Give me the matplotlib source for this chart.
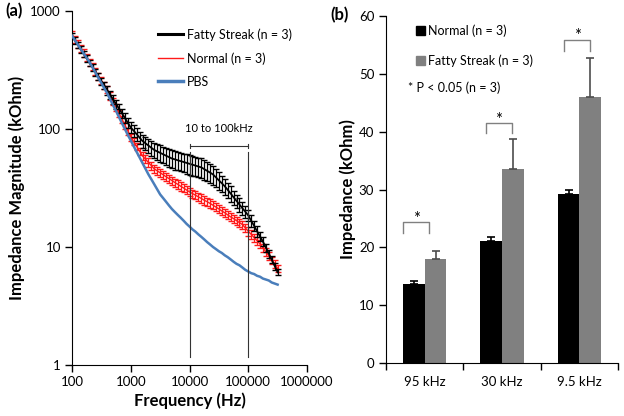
import matplotlib
matplotlib.use("Agg")
import matplotlib.pyplot as plt
import numpy as np
from matplotlib.lines import Line2D
from matplotlib.patches import Patch

plt.rcParams["font.family"] = ["Lato", "DejaVu Sans"]

# ---- panel (a): impedance spectra (20 points per decade) ----
freq = [100, 112, 126, 141, 158, 178, 200, 224, 251, 282,
        316, 355, 398, 447, 501, 562, 631, 708, 794, 891,
        1000, 1122, 1259, 1413, 1585, 1778, 1995, 2239, 2512, 2818,
        3162, 3548, 3981, 4467, 5012, 5623, 6310, 7079, 7943, 8913,
        10000, 11220, 12589, 14125, 15849, 17783, 19953, 22387, 25119, 28184,
        31623, 35481, 39811, 44668, 50119, 56234, 63096, 70795, 79433, 89125,
        100000, 112202, 125893, 141254, 158489, 177828, 199526, 223872, 251189, 281838,
        316228]

fatty = [617, 564, 516, 473, 433, 396, 362, 331, 303, 278,
         254, 233, 213, 195, 178, 163, 149, 136, 124, 113,
         103, 96.6, 90.4, 84.5, 79.1, 75.7, 72.4, 69.3, 66.4, 64.6,
         62.8, 61.1, 59.4, 57.8, 56.2, 55.3, 54.3, 53.4, 52.5, 51.6,
         50.7, 49.8, 49.0, 48.1, 47.3, 45.7, 44.2, 42.7, 41.2, 38.9,
         36.7, 34.7, 32.7, 30.5, 28.4, 26.4, 24.6, 22.9, 21.3, 19.9,
         18.5, 16.7, 15.1, 13.6, 12.3, 11.1, 9.9, 8.8, 7.8, 6.9,
         6.1]
fatty_err_pct = [6, 6, 6, 6, 6, 6, 6, 7, 7, 7,
                 7, 7, 8, 8, 8, 9, 9, 9, 10, 10,
                 11, 11, 12, 12, 13, 13, 14, 14, 15, 15,
                 16, 16, 17, 17, 17, 18, 18, 18, 18, 19,
                 19, 19, 19, 19, 19, 19, 18, 18, 18, 17,
                 17, 16, 16, 15, 15, 14, 13, 13, 12, 12,
                 11, 11, 10, 10, 9, 9, 8, 8, 7, 7,
                 6]

normal = [631, 577, 527, 482, 441, 403, 368, 337, 308, 281,
          257, 235, 215, 191, 171, 152, 136, 121, 108, 96,
          85.5, 78.0, 71.1, 64.9, 59.2, 55.5, 52.1, 48.9, 45.9, 44.2,
          42.6, 41.0, 39.4, 38.0, 36.6, 35.2, 34.0, 32.7, 31.6, 30.4,
          29.3, 28.4, 27.5, 26.6, 25.8, 24.9, 24.2, 23.4, 22.6, 21.8,
          21.0, 20.2, 19.5, 18.7, 18.0, 17.4, 16.7, 16.1, 15.5, 14.5,
          13.6, 12.8, 12.0, 11.3, 10.6, 9.8, 9.1, 8.4, 7.7, 7.2,
          6.6]
normal_err_pct = [7, 7, 7, 7, 7, 7, 7, 7, 7, 7,
                  7, 7, 7, 7, 7, 7, 7, 7, 7, 7,
                  7, 7, 7, 7, 8, 8, 8, 8, 8, 8,
                  8, 8, 8, 8, 8, 8, 8, 8, 8, 8,
                  8, 8, 8, 8, 8, 8, 8, 8, 8, 8,
                  8, 8, 8, 8, 8, 8, 8, 8, 8, 8,
                  8, 8, 8, 8, 8, 8, 7, 7, 7, 7,
                  7]

pbs = [617, 566, 519, 476, 437, 400, 367, 332, 300, 271,
       245, 221, 200, 178, 159, 142, 126, 112, 100, 89,
       80, 71.4, 64.0, 57.4, 51.4, 46.1, 41.3, 37.5, 34.0, 30.8,
       27.9, 26.0, 24.2, 22.5, 21.0, 19.8, 18.7, 17.7, 16.7, 15.7,
       14.9, 14.1, 13.5, 12.8, 12.2, 11.6, 11.0, 10.5, 10.0, 9.6,
       9.2, 8.9, 8.5, 8.2, 7.85, 7.5, 7.2, 7.0, 6.7, 6.4,
       6.2, 6.0, 5.9, 5.7, 5.6, 5.4, 5.3, 5.2, 5.0, 4.9,
       4.8]

# ---- panel (b): bar chart ----
bands = ["95 kHz", "30 kHz", "9.5 kHz"]
normal_bar = [13.7, 21.1, 29.2]
normal_bar_err = [0.4, 0.7, 0.7]
fatty_bar = [17.9, 33.5, 46.0]
fatty_bar_err = [1.4, 5.2, 6.7]

fig = plt.figure(figsize=(6.24, 4.16), dpi=100)

# (a)
ax = fig.add_axes([0.1154, 0.1226, 0.3766, 0.851])
f = np.array(freq, dtype=float)
z_f = np.array(fatty)
z_n = np.array(normal)
ax.errorbar(f, z_n, yerr=z_n * np.array(normal_err_pct) / 100, color="#ff1a1a",
            lw=1.0, elinewidth=0.9, capsize=2.0, capthick=1.0, zorder=2)
ax.errorbar(f, z_f, yerr=z_f * np.array(fatty_err_pct) / 100, color="black",
            lw=1.3, elinewidth=0.9, capsize=2.0, capthick=1.0, zorder=3)
ax.plot(f, pbs, color="#4a7ebb", lw=1.8, zorder=4)

ax.set_xscale("log")
ax.set_yscale("log")
ax.set_xlim(100, 1e6)
ax.set_ylim(1, 1000)
ax.set_xticks([100, 1000, 10000, 100000, 1000000])
ax.set_xticklabels(["100", "1000", "10000", "100000", "1000000"])
ax.set_yticks([1, 10, 100, 1000])
ax.set_yticklabels(["1", "10", "100", "1000"])
ax.minorticks_off()
for s in ["top", "right"]:
    ax.spines[s].set_visible(False)
ax.tick_params(labelsize=9.5, length=5, width=1, colors="black", pad=3)
ax.set_xlabel("Frequency (Hz)", fontsize=12, fontweight="bold", labelpad=3)
ax.set_ylabel("Impedance Magnitude (kOhm)", fontsize=12, fontweight="bold", labelpad=4)

# 10 to 100 kHz marker
for xv in [10000, 100000]:
    ax.plot([xv, xv], [1.17, 64], color="#333333", lw=0.8, zorder=5)
ax.plot([10000, 100000], [72, 72], color="#333333", lw=0.8)
ax.plot([10000, 10000], [69, 75], color="#333333", lw=0.8)
ax.plot([100000, 100000], [69, 75], color="#333333", lw=0.8)
ax.text(10 ** 4.5, 90, "10 to 100kHz", ha="center", va="bottom", fontsize=8)

handles = [Line2D([], [], color="black", lw=2.2),
           Line2D([], [], color="#ff1a1a", lw=1.0),
           Line2D([], [], color="#4a7ebb", lw=2.5)]
ax.legend(handles, ["Fatty Streak (n = 3)", "Normal (n = 3)", "PBS"],
          loc="upper left", bbox_to_anchor=(0.33, 0.976), frameon=False,
          fontsize=9, handlelength=2.0, handletextpad=0.3, labelspacing=0.9,
          borderpad=0.2)

fig.text(0.008, 0.973, "(a)", fontsize=12, fontweight="bold", va="center")

# (b)
bx = fig.add_axes([0.6186, 0.1274, 0.3718, 0.834])
x = np.arange(len(bands))
w = 0.28
bx.bar(x - 0.14, normal_bar, w, color="black", label="Normal (n = 3)", zorder=2)
bx.bar(x + 0.14, fatty_bar, w, color="#808080", label="Fatty Streak (n = 3)", zorder=2)
bx.errorbar(x - 0.14, normal_bar, yerr=[[0] * 3, normal_bar_err], fmt="none",
            ecolor="black", elinewidth=1.2, capsize=3, capthick=1.2, zorder=3)
bx.errorbar(x + 0.14, fatty_bar, yerr=[[0] * 3, fatty_bar_err], fmt="none",
            ecolor="#4d4d4d", elinewidth=1.2, capsize=3, capthick=1.2, zorder=3)

bx.set_xlim(-0.5, 2.5)
bx.set_ylim(0, 60)
bx.set_yticks(range(0, 61, 10))
bx.set_xticks(x)
bx.set_xticklabels(bands)
bx.set_xticks([-0.5, 0.5, 1.5, 2.5], minor=True)
bx.tick_params(axis="x", which="major", length=0, pad=9)
bx.tick_params(axis="x", which="minor", length=5, width=1)
bx.tick_params(axis="y", length=5, width=1)
bx.tick_params(labelsize=9.5, colors="black")
for s in ["top", "right"]:
    bx.spines[s].set_visible(False)
bx.set_ylabel("Impedance (kOhm)", fontsize=12, fontweight="bold", labelpad=2)

# significance brackets: (left, right, leg bottom, top)
brackets = [(-0.28, 0.06, 22.5, 24.3), (0.79, 1.13, 39.8, 41.5), (1.80, 2.14, 54.0, 55.9)]
for x0, x1, lo, hi in brackets:
    bx.plot([x0, x0, x1, x1], [lo, hi, hi, lo], color="#808080", lw=1.0)
    bx.text((x0 + x1) / 2, hi - 0.8, "*", ha="center", va="bottom", fontsize=12)

bx.legend(handles=[Patch(color="black"), Patch(color="#808080")],
          labels=["Normal (n = 3)", "Fatty Streak (n = 3)"],
          loc="upper left", bbox_to_anchor=(0.08, 1.008), frameon=False,
          fontsize=9, handlelength=0.7, handleheight=0.7, handletextpad=0.3,
          labelspacing=1.4)
bx.text(0.095, 0.7925, "* P < 0.05 (n = 3)", transform=bx.transAxes, fontsize=9, va="center")

fig.text(0.529, 0.963, "(b)", fontsize=12, fontweight="bold", va="center")

fig.savefig("out.png", dpi=100)
